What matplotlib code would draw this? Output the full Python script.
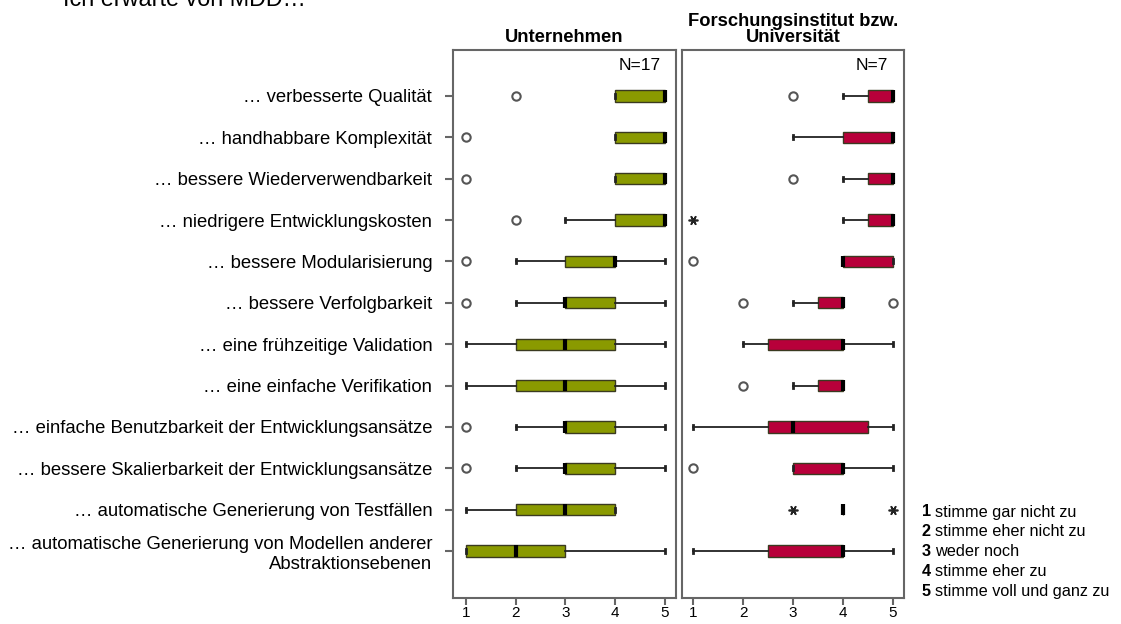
import matplotlib
matplotlib.use('Agg')
import matplotlib.pyplot as plt

plt.rcParams['font.family'] = ['Liberation Sans', 'DejaVu Sans']

items = ['… verbesserte Qualität',
         '… handhabbare Komplexität',
         '… bessere Wiederverwendbarkeit',
         '… niedrigere Entwicklungskosten',
         '… bessere Modularisierung',
         '… bessere Verfolgbarkeit',
         '… eine frühzeitige Validation',
         '… eine einfache Verifikation',
         '… einfache Benutzbarkeit der Entwicklungsansätze',
         '… bessere Skalierbarkeit der Entwicklungsansätze',
         '… automatische Generierung von Testfällen',
         '… automatische Generierung von Modellen anderer\nAbstraktionsebenen']

# Unternehmen (N=17)
u_whislo = [4, 4, 4, 3, 2, 2, 1, 1, 2, 2, 1, 1]
u_q1 = [4, 4, 4, 4, 3, 3, 2, 2, 3, 3, 2, 1]
u_med = [5, 5, 5, 5, 4, 3, 3, 3, 3, 3, 3, 2]
u_q3 = [5, 5, 5, 5, 4, 4, 4, 4, 4, 4, 4, 3]
u_whishi = [5, 5, 5, 5, 5, 5, 5, 5, 5, 5, 4, 5]
u_out = [[2], [1], [1], [2], [1], [1], [], [], [1], [1], [], []]
u_ext = [[], [], [], [], [], [], [], [], [], [], [], []]

# Forschungsinstitut bzw. Universität (N=7)
f_whislo = [4, 3, 4, 4, 4, 3, 2, 3, 1, 3, 4, 1]
f_q1 = [4.5, 4, 4.5, 4.5, 4, 3.5, 2.5, 3.5, 2.5, 3, 4, 2.5]
f_med = [5, 5, 5, 5, 4, 4, 4, 4, 3, 4, 4, 4]
f_q3 = [5, 5, 5, 5, 5, 4, 4, 4, 4.5, 4, 4, 4]
f_whishi = [5, 5, 5, 5, 5, 4, 5, 4, 5, 5, 4, 5]
f_out = [[3], [], [3], [], [1], [2, 5], [], [2], [], [1], [], []]
f_ext = [[], [], [], [1], [], [], [], [], [], [], [3, 5], []]

scale = ['stimme gar nicht zu', 'stimme eher nicht zu', 'weder noch',
         'stimme eher zu', 'stimme voll und ganz zu']

groups = [('Unternehmen', 'N=17', '#8a9a00',
           u_whislo, u_q1, u_med, u_q3, u_whishi, u_out, u_ext),
          ('Forschungsinstitut bzw.\nUniversität', 'N=7', '#b8003a',
           f_whislo, f_q1, f_med, f_q3, f_whishi, f_out, f_ext)]

W, H = 1121, 624
fig = plt.figure(figsize=(W / 100, H / 100), dpi=100)

frames = [(453, 676), (682, 904)]
xlims = [(0.74, 5.22), (0.78, 5.22)]
top, bottom = 50, 598
rows = list(range(len(items)))
edge = '#666666'

for k, (title, ntext, color, wlo, q1, med, q3, whi, out, ext) in enumerate(groups):
    x0, x1 = frames[k]
    ax = fig.add_axes([x0 / W, (H - bottom) / H, (x1 - x0) / W, (bottom - top) / H])
    stats = []
    for i in rows:
        stats.append({'whislo': wlo[i], 'q1': q1[i], 'med': med[i],
                      'q3': q3[i], 'whishi': whi[i], 'fliers': out[i]})
    ax.bxp(stats, positions=rows, vert=False, widths=0.27, capwidths=0.1,
           patch_artist=True, showfliers=True,
           boxprops=dict(facecolor=color, edgecolor='#3a3a20', linewidth=1),
           medianprops=dict(color='black', linewidth=3, solid_capstyle='butt'),
           whiskerprops=dict(color='#222222', linewidth=1.3),
           capprops=dict(color='#222222', linewidth=2),
           flierprops=dict(marker='o', markersize=6, markerfacecolor='white',
                           markeredgecolor='#555555', markeredgewidth=1.5,
                           linestyle='none'))
    # extreme values drawn as asterisks
    for i in rows:
        if ext[i]:
            ax.plot(ext[i], [i] * len(ext[i]), linestyle='none',
                    marker=(6, 2, 90), markersize=7, markeredgewidth=1.2,
                    color='#222222')

    ax.set_xlim(*xlims[k])
    ax.set_ylim(len(items) - 1 + 1.135, -1.11)
    ax.set_xticks([1, 2, 3, 4, 5])
    ax.tick_params(axis='x', direction='out', length=5, width=1.5,
                   color=edge, labelsize=11, pad=1)
    for s in ax.spines.values():
        s.set_color(edge)
        s.set_linewidth(1.5)
    ax.text(0.93, 0.986, ntext, transform=ax.transAxes, ha='right', va='top',
            fontsize=12.5)
    ax.set_title(title, fontsize=13.2, fontweight='bold', pad=6,
                 linespacing=0.92)
    if k == 0:
        ax.set_yticks(rows)
        ax.set_yticklabels(items, fontsize=13.3)
        ax.tick_params(axis='y', direction='out', length=6, width=1.5,
                       color=edge, pad=9)
    else:
        ax.set_yticks([])

fig.text(63 / W, 1 - 6.5 / H, 'Ich erwarte von MDD…', fontsize=16.8,
         ha='left', va='baseline')

for j, lab in enumerate(scale):
    y = 1 - (512 + j * 19.8) / H
    fig.text(922 / W, y, str(j + 1), fontsize=11.7, fontweight='bold',
             ha='left', va='center')
    fig.text(935 / W, y, lab, fontsize=11.7, ha='left', va='center')

fig.savefig('out.png', dpi=100)
